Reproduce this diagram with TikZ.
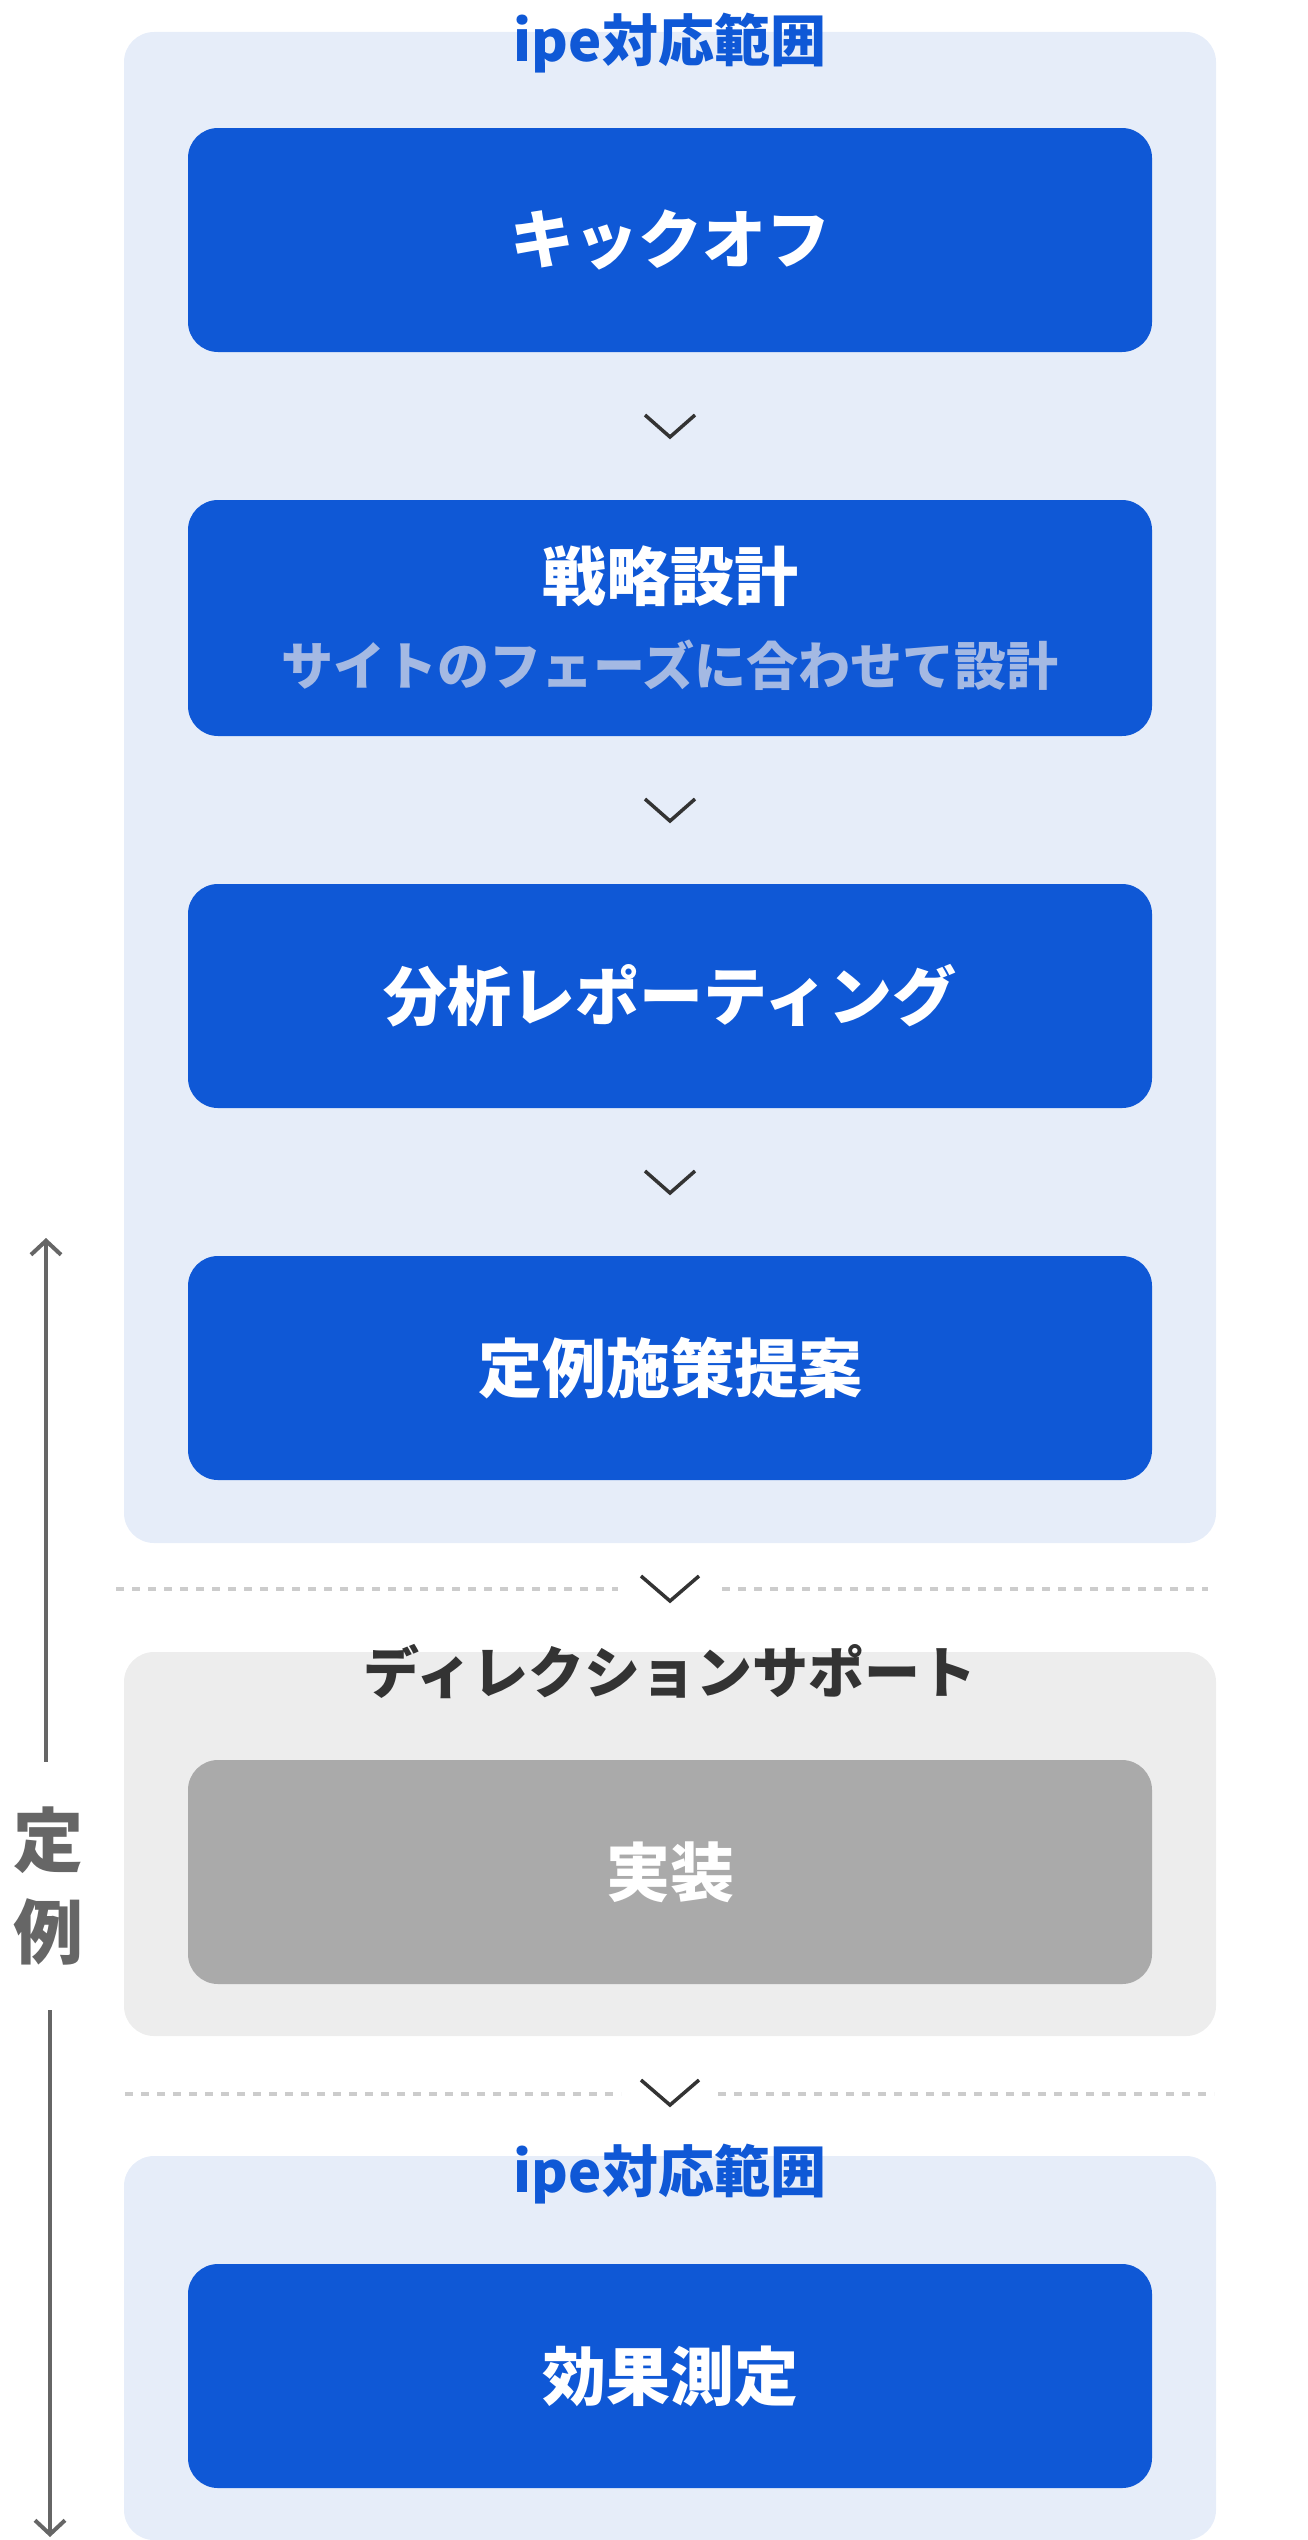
\documentclass[tikz,border=0pt]{standalone}
\usepackage{fontspec}
\setmainfont{Noto Sans CJK JP}
\usetikzlibrary{calc,arrows.meta}

\definecolor{boxblue}{HTML}{0F58D6}
\definecolor{paleblue}{HTML}{E6EDF9}
\definecolor{subblue}{HTML}{A4B9E3}
\definecolor{palegray}{HTML}{EDEDED}
\definecolor{midgray}{HTML}{AAAAAA}
\definecolor{inkgray}{HTML}{333333}
\definecolor{axisgray}{HTML}{666666}
\definecolor{dotgray}{HTML}{CCCCCC}

\begin{document}
\begin{tikzpicture}
  [x=1pt,y=-1pt,
   panel/.style={fill=#1,rounded corners=30pt,minimum width=1092pt,inner sep=0pt},
   stepbox/.style={fill=#1,rounded corners=30pt,minimum width=964pt,minimum height=224pt,
     inner sep=0pt,text=white,align=center,font=\bfseries\fontsize{64}{85}\selectfont},
   title/.style={text=#1,inner sep=0pt,font=\bfseries\fontsize{56}{60}\selectfont},
   chev/.style={draw=inkgray,line width=3.5pt},
   sep/.style={draw=dotgray,line width=4pt,dash pattern=on 8pt off 8pt},
   axis/.style={draw=axisgray,line width=4pt,-{Straight Barb[length=14pt,width=30pt]}}]
  \useasboundingbox (0,0) rectangle (1308,2540);

  % panels
  \node[panel=paleblue,minimum height=1511pt] (p1) at (670,787.5) {};
  \node[panel=palegray,minimum height=384pt] (p2) at (670,1844) {};
  \node[panel=paleblue,minimum height=384pt] (p3) at (670,2348) {};

  \node[title=boxblue] (t1) at (670,43) {ipe対応範囲};
  \node[title=inkgray] (t2) at (670,1672) {ディレクションサポート};
  \node[title=boxblue] (t3) at (670,2174) {ipe対応範囲};

  % steps
  \node[stepbox=boxblue] (s1) at (670,240) {キックオフ};
  \node[stepbox=boxblue,minimum height=236pt] (s2) at (670,618)
    {戦略設計\\{\fontsize{52}{85}\selectfont\color{subblue}サイトのフェーズに合わせて設計}};
  \node[stepbox=boxblue] (s3) at (670,996) {分析レポーティング};
  \node[stepbox=boxblue] (s4) at (670,1368) {定例施策提案};
  \node[stepbox=midgray] (s5) at (670,1872) {実装};
  \node[stepbox=boxblue] (s6) at (670,2376) {効果測定};

  \foreach \a/\b in {s1/s2,s2/s3,s3/s4}
    \draw[chev] ($(\a.south)!.5!(\b.north)$) +(-25,-11) -- +(0,11) -- +(25,-11);

  % separators
  \coordinate (d1) at (670,1589);
  \coordinate (d2) at (670,2093);
  \draw[sep] (116,1589) -- (618,1589) (722,1589) -- (1208,1589);
  \draw[sep] (125,2094) -- (621,2094) (718,2094) -- (1214,2094);
  \foreach \d in {d1,d2}
    \draw[chev] (\d) +(-29,-13) -- +(0,12) -- +(29,-13);

  % cycle axis
  \node[text=axisgray,align=center,inner sep=0pt,minimum height=248pt,
    font=\bfseries\fontsize{70}{92}\selectfont] (lbl) at (48,1886) {定\\例};
  \coordinate (top) at (46,1238);
  \coordinate (bot) at (50,2537);
  \draw[axis] ([xshift=-2pt]lbl.north) -- (top);
  \draw[axis] ([xshift=2pt]lbl.south) -- (bot);
\end{tikzpicture}
\end{document}
